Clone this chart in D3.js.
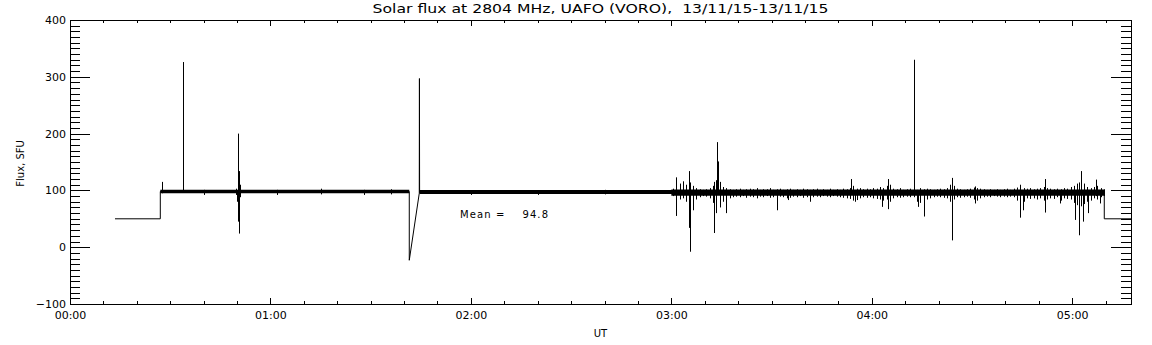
<!DOCTYPE html>
<html>
<head>
<meta charset="utf-8">
<script src="https://cdn.jsdelivr.net/npm/d3@7"></script>
<style>
body { margin: 0; background: #fff; }
svg { display: block; font-family: "DejaVu Sans", sans-serif; }
.axis path, .axis line { stroke: #000; stroke-width: 1; shape-rendering: crispEdges; }
.axis text { font-size: 11px; fill: #000; font-family: "DejaVu Sans", sans-serif; }
.lbl { fill: #000; }
</style>
</head>
<body>
<script>
// time is in minutes after 00:00 UT, flux in SFU

// main trace: quiet levels, steps, the dip/ramp at 01:41 and the end step
var traceT = [13.47, 27.03, 27.03, 101.56, 101.56, 104.55, 104.6, 104.65, 309.6, 309.6, 317.6];
var traceV = [50, 50, 98, 98, -23, 95, 297, 96, 96, 50, 50];

// core band of the trace (min / max of the noise)
var bandT  = [27.03, 101.56, 101.6, 104.55, 104.6, 180, 180.01, 309.6];
var bandLo = [95, 95, null, null, 93.5, 93.5, 90.5, 90.5];
var bandHi = [101, 101, null, null, 100.5, 100.5, 101.5, 101.5];

// noisy part after 03:00, one min/max pair per minute
var noiseStart = 180;
var noiseLo = [90, 78, 84, 86, 80, 70, 76, 84, 88, 90, 89, 86, 78, 66, 70, 80, 76, 86, 88, 89,
               88, 90, 87, 89, 88, 86, 89, 88, 90, 87, 88, 86, 89, 88, 86, 87, 89, 88, 90, 87,
               88, 85, 88, 89, 88, 90, 89, 88, 90, 89, 88, 87, 86, 85, 82, 83, 86, 88, 87, 88,
               86, 85, 84, 82, 84, 80, 86, 88, 87, 88, 89, 88, 88, 80, 78, 82, 84, 86, 88, 89,
               88, 87, 86, 80, 84, 88, 87, 88, 89, 87, 84, 82, 86, 88, 89, 88, 90, 89, 88, 89,
               88, 89, 88, 82, 78, 80, 86, 85, 86, 84, 86, 82, 84, 86, 85, 88, 82, 86, 85, 84,
               78, 74, 72, 76, 80, 82, 86, 84, 88, 90];
var noiseHi = [103, 108, 112, 106, 110, 114, 108, 104, 102, 101, 102, 104, 108, 118, 115, 106, 104, 102, 101, 102,
               103, 101, 102, 103, 102, 104, 101, 102, 102, 104, 101, 102, 103, 101, 102, 103, 101, 102, 101, 103,
               102, 101, 102, 103, 101, 102, 101, 103, 101, 102, 101, 103, 102, 104, 108, 103, 104, 102, 103, 102,
               104, 103, 106, 104, 108, 110, 103, 102, 104, 101, 102, 103, 102, 101, 104, 102, 103, 102, 101, 102,
               103, 102, 104, 110, 108, 103, 102, 101, 102, 103, 105, 104, 103, 102, 101, 102, 101, 102, 101, 102,
               103, 101, 103, 105, 106, 104, 103, 104, 102, 103, 104, 106, 104, 103, 102, 103, 102, 104, 103, 106,
               108, 112, 118, 112, 106, 104, 106, 108, 104, 102];

// single spikes and dips: time, low end, high end
var spikeT  = [27.6, 33.9, 49.8, 50.1, 50.25, 50.4, 50.55, 50.65, 50.8, 40, 62, 75, 88, 96, 120, 140, 160,
               181.3, 183.6, 185.4, 185.7, 186.5, 192.8, 193.4, 193.7, 193.9, 196.3, 211.7, 215.0, 221.5,
               233.9, 235.0, 243.1, 244.9, 252.7, 253.9, 255.7, 264.1, 270.9, 284.3, 285.2, 291.8, 296.3,
               300.8, 302.1, 302.6, 303.3, 304.8, 307.1, 308.3];
var spikeLo = [95, 97, 92, 80, 95, 45, 95, 24, 88, 92, 92, 93, 92, 93, 92, 92, 93,
               55, 95, 34, -8, 65, 25, 60, 95, 95, 60, 65, 83, 80,
               95, 80, 71, 67, 97, 71, 54, 12, 77, 52, 65, 61, 77,
               48, 21, 95, 45, 60, 90, 77];
var spikeHi = [115, 326, 103, 100, 200, 100, 134, 100, 110, 101, 101, 103, 101, 102, 100, 100, 101,
               123, 116, 134, 100, 100, 115, 100, 185, 151, 100, 100, 100, 100,
               120, 100, 100, 120, 330, 100, 100, 122, 107, 110, 100, 120, 100,
               100, 114, 134, 100, 100, 119, 100];

var xTicks = [0, 60, 120, 180, 240, 300];
var xTickLabels = ["00:00", "01:00", "02:00", "03:00", "04:00", "05:00"];
var yTicks = [-100, 0, 100, 200, 300, 400];

var title = "Solar flux at 2804 MHz, UAFO (VORO),  13/11/15-13/11/15";
var meanLabel = "Mean =    94.8";

var margin = { top: 20, right: 21, bottom: 41, left: 70 },
    width = 1152 - margin.left - margin.right,
    height = 345 - margin.top - margin.bottom;

var xScale = d3.scaleLinear().domain([0, 317.6]).range([0, width]),
    yScale = d3.scaleLinear().domain([-100, 400]).range([height, 0]);

var root = d3.select("body").append("svg")
    .attr("width", 1152)
    .attr("height", 345);

root.append("rect").attr("width", 1152).attr("height", 345).attr("fill", "#fff");

var svg = root.append("g")
    .attr("transform", "translate(" + margin.left + "," + margin.top + ")");

// band
var band = bandT.map(function (t, i) { return { t: t, lo: bandLo[i], hi: bandHi[i] }; });
svg.append("path")
    .datum(band)
    .attr("fill", "#000")
    .attr("d", d3.area()
        .defined(function (d) { return d.lo != null; })
        .x(function (d) { return xScale(d.t); })
        .y0(function (d) { return yScale(d.lo); })
        .y1(function (d) { return yScale(d.hi); }));

// noise envelope, one stroke per minute
var noise = noiseLo.map(function (lo, i) { return { t: noiseStart + i + 0.5, lo: lo, hi: noiseHi[i] }; });
svg.selectAll(".noise")
    .data(noise)
    .enter().append("line")
    .attr("class", "noise")
    .attr("x1", function (d) { return Math.round(xScale(d.t)) + 0.5; })
    .attr("x2", function (d) { return Math.round(xScale(d.t)) + 0.5; })
    .attr("y1", function (d) { return yScale(d.lo); })
    .attr("y2", function (d) { return yScale(d.hi); })
    .attr("stroke", "#000")
    .attr("stroke-width", 1);

// spikes
var spikes = spikeT.map(function (t, i) { return { t: t, lo: spikeLo[i], hi: spikeHi[i] }; });
svg.selectAll(".spike")
    .data(spikes)
    .enter().append("line")
    .attr("class", "spike")
    .attr("x1", function (d) { return Math.round(xScale(d.t)) + 0.5; })
    .attr("x2", function (d) { return Math.round(xScale(d.t)) + 0.5; })
    .attr("y1", function (d) { return yScale(d.lo); })
    .attr("y2", function (d) { return yScale(d.hi); })
    .attr("stroke", "#000")
    .attr("stroke-width", 1);

// main trace
var trace = traceT.map(function (t, i) { return { t: t, v: traceV[i] }; });
svg.append("path")
    .datum(trace)
    .attr("fill", "none")
    .attr("stroke", "#000")
    .attr("stroke-width", 1)
    .attr("d", d3.line()
        .x(function (d) { return xScale(d.t); })
        .y(function (d) { return yScale(d.v); }));

// axes: major + minor ticks on all four sides, pointing inward
svg.append("g").attr("class", "axis")
    .call(d3.axisLeft(yScale).tickValues(yTicks).tickSizeInner(-20).tickSizeOuter(0).tickPadding(4));
svg.append("g").attr("class", "axis")
    .call(d3.axisLeft(yScale).tickValues(d3.range(-100, 401, 10)).tickSize(-10).tickFormat(""));
svg.append("g").attr("class", "axis")
    .attr("transform", "translate(" + width + ",0)")
    .call(d3.axisRight(yScale).tickValues(yTicks).tickSize(-20).tickFormat(""));
svg.append("g").attr("class", "axis")
    .attr("transform", "translate(" + width + ",0)")
    .call(d3.axisRight(yScale).tickValues(d3.range(-100, 401, 10)).tickSize(-10).tickFormat(""));

svg.append("g").attr("class", "axis")
    .attr("transform", "translate(0," + height + ")")
    .call(d3.axisBottom(xScale).tickValues(xTicks).tickSizeInner(-6).tickSizeOuter(0).tickPadding(7)
        .tickFormat(function (d, i) { return xTickLabels[i]; }));
svg.append("g").attr("class", "axis")
    .attr("transform", "translate(0," + height + ")")
    .call(d3.axisBottom(xScale).tickValues(d3.range(0, 317, 10)).tickSize(-3).tickFormat(""));
svg.append("g").attr("class", "axis")
    .call(d3.axisTop(xScale).tickValues(xTicks).tickSize(-6).tickFormat(""));
svg.append("g").attr("class", "axis")
    .call(d3.axisTop(xScale).tickValues(d3.range(0, 317, 10)).tickSize(-3).tickFormat(""));

// texts
root.append("text").attr("class", "lbl")
    .attr("x", margin.left + width / 2)
    .attr("y", 13)
    .attr("text-anchor", "middle")
    .attr("font-size", 12.5)
    .attr("textLength", 456)
    .attr("lengthAdjust", "spacingAndGlyphs")
    .style("white-space", "pre")
    .text(title);

root.append("text").attr("class", "lbl")
    .attr("x", margin.left + width / 2)
    .attr("y", 337)
    .attr("text-anchor", "middle")
    .attr("font-size", 10)
    .text("UT");

root.append("text").attr("class", "lbl")
    .attr("transform", "translate(24," + (margin.top + height * 0.505) + ") rotate(-90)")
    .attr("text-anchor", "middle")
    .attr("font-size", 10)
    .text("Flux, SFU");

root.append("text").attr("class", "lbl")
    .attr("x", 460)
    .attr("y", 218)
    .attr("font-size", 10)
    .attr("textLength", 88)
    .attr("lengthAdjust", "spacing")
    .style("white-space", "pre")
    .text(meanLabel);
</script>
</body>
</html>
